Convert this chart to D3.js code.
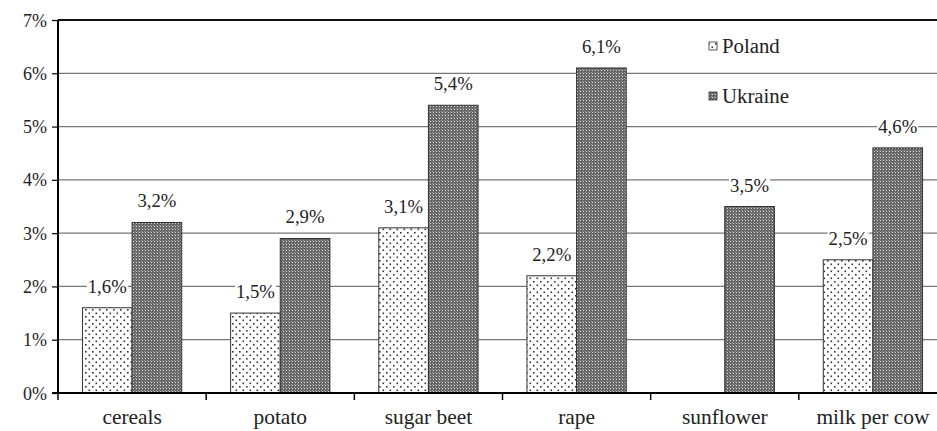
<!DOCTYPE html>
<html><head><meta charset="utf-8">
<script src="https://cdn.jsdelivr.net/npm/d3@7"></script>
<style>body{margin:0;background:#fff}svg{display:block}</style>
</head><body><svg id="c" width="937" height="431"></svg>
<script>
const categories = ["cereals","potato","sugar beet","rape","sunflower","milk per cow"];
const seriesNames = ["Poland","Ukraine"];
const poland = [1.6,1.5,3.1,2.2,null,2.5];
const ukraine = [3.2,2.9,5.4,6.1,3.5,4.6];
const yTicks = [0,1,2,3,4,5,6,7];

(function(){
const FF = `"Liberation Serif","Tinos","Times New Roman","DejaVu Serif","Noto Serif",serif`;
const svg = d3.select("#c");
svg.append("style").text(`svg text{font-family:${FF};fill:#222}`);
// size fonts so text widths match the reference, whatever serif face is present
function fit(sample, targetW){
  const t = svg.append("text").attr("font-size",20).text(sample);
  const w = t.node().getComputedTextLength(); t.remove();
  return Math.max(10, Math.min(24, 20*targetW/w));
}
const fsX = fit("milk per cow",113), fsVal = fit("1,6%",39), fsY = fit("7%",24), fsLeg = fit("Ukraine",67);

const W=937, mL=58, mR=947, mT=20, mB=393;
const defs = svg.append("defs");
const p1 = defs.append("pattern").attr("id","pPol").attr("patternUnits","userSpaceOnUse").attr("width",7).attr("height",7);
p1.append("rect").attr("width",7).attr("height",7).attr("fill","#fff");
p1.append("rect").attr("x",1).attr("y",1).attr("width",1.6).attr("height",1.6).attr("fill","#333");
p1.append("rect").attr("x",4.5).attr("y",4.5).attr("width",1.6).attr("height",1.6).attr("fill","#333");
const p2 = defs.append("pattern").attr("id","pUkr").attr("patternUnits","userSpaceOnUse").attr("width",3).attr("height",3);
p2.append("rect").attr("width",3).attr("height",3).attr("fill","#666");
p2.append("rect").attr("x",1).attr("y",1).attr("width",1).attr("height",1).attr("fill","#ddd");
p2.append("rect").attr("x",0).attr("y",0).attr("width",1).attr("height",1).attr("fill","#999");
const fills = ["url(#pPol)","url(#pUkr)"];

const x0 = d3.scaleBand().domain(categories).range([mL,mR]).paddingInner(0.33).paddingOuter(0.165);
const x1 = d3.scaleBand().domain(seriesNames).range([0,x0.bandwidth()]);
const y = d3.scaleLinear().domain([0,7]).range([mB,mT]);

svg.append("g").selectAll("line").data(yTicks.filter(d=>d>0)).join("line")
  .attr("x1",mL).attr("x2",W).attr("y1",d=>y(d)).attr("y2",d=>y(d))
  .attr("stroke",(d)=>d===7?"#111":"#777").attr("stroke-width",d=>d===7?2:1.3);

const data = categories.map((c,i)=>({c, vals:[poland[i],ukraine[i]]}));
const g = svg.append("g");
data.forEach(d=>{
  d.vals.forEach((v,j)=>{
    if(v==null) return;
    const xx = x0(d.c)+x1(seriesNames[j]);
    g.append("rect").attr("x",xx).attr("y",y(v)).attr("width",x1.bandwidth()).attr("height",mB-y(v))
      .attr("fill",fills[j]).attr("stroke","#333").attr("stroke-width",1);
  });
});
data.forEach(d=>{
  d.vals.forEach((v,j)=>{
    if(v==null) return;
    const cx = x0(d.c)+x1(seriesNames[j])+x1.bandwidth()/2;
    const lbl = d3.format(".1f")(v).replace(".",",")+"%";
    const t = svg.append("text").attr("x",cx).attr("y",y(v)-15).attr("text-anchor","middle").attr("font-size",fsVal).text(lbl);
    const bb = t.node().getBBox();
    svg.insert("rect","text").attr("x",bb.x-1).attr("y",bb.y+2).attr("width",bb.width+2).attr("height",bb.height-4).attr("fill","#fff");
  });
});

const ya = svg.append("g").attr("transform",`translate(${mL},0)`)
  .call(d3.axisLeft(y).tickValues(yTicks).tickSize(6).tickFormat(d=>d+"%"));
ya.select(".domain").remove();
ya.selectAll(".tick line").attr("stroke","#111").attr("stroke-width",1.3);
ya.selectAll(".tick text").attr("font-size",fsY).attr("x",-11).attr("dy","0.34em");
svg.append("line").attr("x1",mL).attr("x2",mL).attr("y1",mT).attr("y2",mB+1).attr("stroke","#000").attr("stroke-width",2);

svg.append("line").attr("x1",mL-6).attr("x2",W).attr("y1",mB).attr("y2",mB).attr("stroke","#000").attr("stroke-width",2);
const xa = svg.append("g").attr("transform",`translate(0,${mB})`)
  .call(d3.axisBottom(x0).tickSize(0));
xa.select(".domain").remove();
xa.selectAll(".tick text").attr("font-size",fsX).attr("y",31).attr("dy",0);
const step = x0.step();
const bounds = categories.map((c,i)=>x0(c)-x0.paddingInner()*step/2);
svg.append("g").selectAll("line").data(bounds).join("line")
  .attr("x1",d=>d).attr("x2",d=>d).attr("y1",mB).attr("y2",mB+7).attr("stroke","#000").attr("stroke-width",1.5);

const lg = svg.append("g");
seriesNames.forEach((s,i)=>{
  const yy = 46 + i*50;
  lg.append("rect").attr("x",709).attr("y",yy-4).attr("width",8).attr("height",8).attr("fill",fills[i]).attr("stroke","#333").attr("stroke-width",0.8);
  lg.append("text").attr("x",722).attr("y",yy).attr("dy","0.35em").attr("font-size",fsLeg).text(s);
});
})();
</script></body></html>
